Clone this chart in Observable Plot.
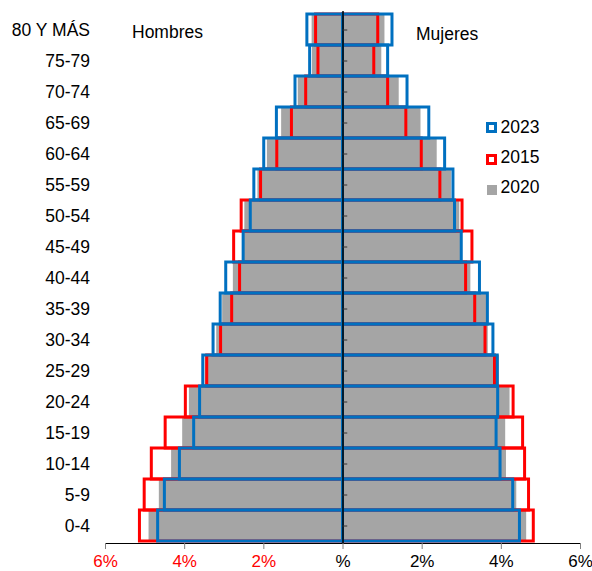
<!DOCTYPE html>
<html><head><meta charset="utf-8">
<script src="https://cdn.jsdelivr.net/npm/d3@7"></script>
<script src="https://cdn.jsdelivr.net/npm/@observablehq/plot@0.6"></script>
<style>
body{margin:0;background:#fff;font-family:"Liberation Sans",Arial,sans-serif;}
#wrap{position:relative;width:592px;height:571px;overflow:hidden}
.lab{position:absolute;font-size:17.5px;color:#000;line-height:1;white-space:nowrap}
.key{position:absolute;box-sizing:border-box}
</style></head><body><div id="wrap"></div>
<script>
const ages = ["80 Y MÁS","75-79","70-74","65-69","60-64","55-59","50-54","45-49","40-44","35-39","30-34","25-29","20-24","15-19","10-14","5-9","0-4"];
// Hombres (% of population)
const men2015 = [0.68,0.62,0.93,1.29,1.66,2.07,2.56,2.75,2.60,2.80,3.08,3.43,3.97,4.48,4.83,5.01,5.13];
const men2020 = [0.78,0.77,1.13,1.55,1.91,2.15,2.48,2.50,2.77,3.04,3.19,3.48,3.88,4.05,4.33,4.64,4.90];
const men2023 = [0.90,0.83,1.20,1.67,1.99,2.24,2.33,2.51,2.95,3.09,3.27,3.53,3.61,3.76,4.12,4.50,4.67];
// Mujeres
const women2015 = [0.89,0.79,1.14,1.60,1.99,2.46,3.02,3.27,3.11,3.34,3.60,3.84,4.31,4.55,4.60,4.70,4.82];
const women2020 = [1.06,0.98,1.42,1.97,2.38,2.74,2.95,2.98,3.23,3.63,3.67,3.95,4.22,4.11,4.13,4.39,4.64];
const women2023 = [1.25,1.14,1.63,2.18,2.58,2.79,2.83,3.00,3.46,3.66,3.80,3.91,3.92,3.88,3.98,4.30,4.47];
const xTicks = [-6,-4,-2,0,2,4,6];
const sexLabels = ["Hombres","Mujeres"];
const legendItems = [
  {label:"2023", color:"#0070C0", type:"outline"},
  {label:"2015", color:"#FF0000", type:"outline"},
  {label:"2020", color:"#A5A5A5", type:"fill"}
];

const rows = [];
ages.forEach((a,i)=>{
  rows.push({age:a, sex:"H", v2015:-men2015[i], v2020:-men2020[i], v2023:-men2023[i]});
  rows.push({age:a, sex:"M", v2015:women2015[i], v2020:women2020[i], v2023:women2023[i]});
});

const chart = Plot.plot({
  width:592, height:571,
  marginLeft:105, marginRight:12, marginTop:11, marginBottom:28,
  style:{fontFamily:"Liberation Sans, Arial, sans-serif", fontSize:"17.5px", background:"white", color:"#000"},
  x:{domain:[-6,6], label:null},
  y:{domain:ages, padding:0, label:null},
  marks:[
    Plot.barX(rows,{y:"age", x1:0, x2:"v2020", fill:"#A5A5A5"}),
    Plot.barX(rows,{y:"age", x1:0, x2:"v2015", fill:"none", stroke:"#FF0000", strokeWidth:3}),
    Plot.barX(rows,{y:"age", x1:0, x2:"v2023", fill:"none", stroke:"#0070C0", strokeWidth:3}),
    Plot.ruleX([0],{stroke:"#000", strokeWidth:1.5}),
    Plot.ruleY(ages,{y:d=>d, x1:0, x2:0.12, stroke:"#333", strokeWidth:1}),
    Plot.frame({anchor:"bottom", stroke:"#000"}),
    Plot.axisX(xTicks,{tickSize:6, tickFormat:()=>"", stroke:"#808080", label:null}),
    Plot.axisX(xTicks.filter(d=>d<0),{tickSize:0, tickPadding:11, fontSize:17, tickFormat:d=>Math.abs(d)+"%", color:"#FF0000", label:null}),
    Plot.axisX(xTicks.filter(d=>d>=0),{tickSize:0, tickPadding:11, fontSize:17, tickFormat:d=>d===0?"%":d+"%", color:"#000", label:null}),
    Plot.axisY({tickSize:0, tickPadding:15.5, label:null})
  ]
});
const wrap = document.getElementById("wrap");
wrap.appendChild(chart);

function addLabel(text,left,top){
  const s=document.createElement("div"); s.className="lab"; s.textContent=text;
  s.style.left=left+"px"; s.style.top=top+"px"; wrap.appendChild(s);
}
addLabel(sexLabels[0],132,24.4);
addLabel(sexLabels[1],416,26);
const keyTops=[122,154,184.5];
const textTops=[119.4,148.8,179.4];
legendItems.forEach((it,i)=>{
  const k=document.createElement("div"); k.className="key";
  k.style.left="486px"; k.style.top=keyTops[i]+"px"; k.style.width="11px"; k.style.height="11px";
  if(it.type==="outline"){k.style.border="3px solid "+it.color; k.style.background="#fff";}
  else {k.style.background=it.color; k.style.left="487px"; k.style.width="10px"; k.style.height="10px";}
  wrap.appendChild(k);
  addLabel(it.label,500.5,textTops[i]);
});
</script>
</body></html>
